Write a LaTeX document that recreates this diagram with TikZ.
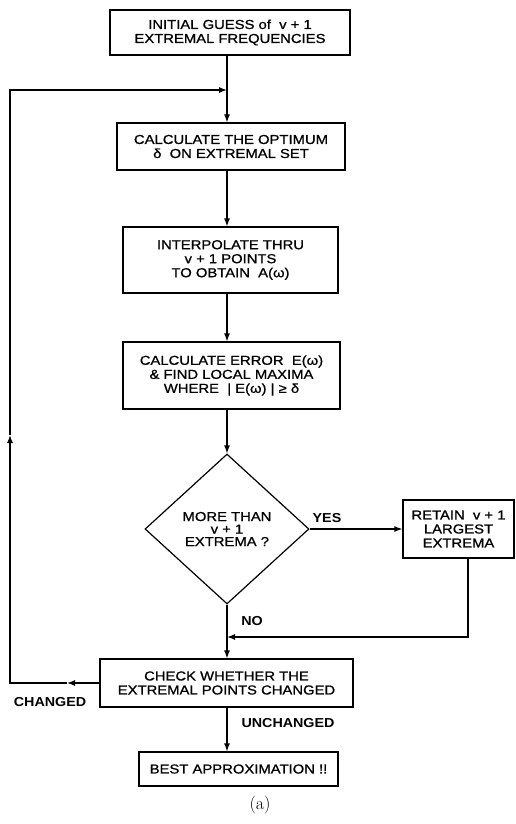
\documentclass[tikz,border=0pt]{standalone}
\usepackage{fontspec}
\usetikzlibrary{arrows.meta,shapes.geometric}
\newfontfamily\boxfont{Liberation Sans}[FakeStretch=1.14,FakeBold=0.9]
\newfontfamily\labelfont{Liberation Sans}[FakeStretch=1.1]
\begin{document}
\begin{tikzpicture}[x=1pt,y=-1pt,
  wire/.style={line width=1.2pt},
  tip/.style={-{Latex[length=8pt,width=6pt]}},
  procbox/.style={draw,line width=1.2pt,rectangle,inner sep=0pt,align=center,
    font=\boxfont\fontsize{13}{14}\selectfont},
  decide/.style={draw,line width=1.2pt,diamond,inner sep=0pt,align=center,
    minimum width=164pt,minimum height=150pt,
    font=\boxfont\fontsize{13}{12.5}\selectfont},
  flowlabel/.style={inner sep=0pt,font=\labelfont\bfseries\fontsize{13}{14}\selectfont}]
\useasboundingbox (0,0) rectangle (516,824);

% process steps
\node[procbox,minimum width=240pt,minimum height=45pt] (box1) at (230,32.5)
  {INITIAL GUESS of \ v + 1\\EXTREMAL FREQUENCIES};
\node[procbox,minimum width=228pt,minimum height=47pt] (box2) at (231,146.5)
  {CALCULATE THE OPTIMUM\\δ \ ON EXTREMAL SET};
\node[procbox,minimum width=215pt,minimum height=66pt] (box3) at (230.5,260)
  {INTERPOLATE THRU\\v + 1 POINTS\\TO OBTAIN \ A(ω)};
\node[procbox,minimum width=217pt,minimum height=67pt] (box4) at (231.5,375.5)
  {CALCULATE ERROR \ E(ω)\\\& FIND LOCAL MAXIMA\\WHERE \ | E(ω) | ≥ δ};
\node[decide] (dec) at (227,529) {MORE THAN\\v + 1\\EXTREMA ?};
\node[procbox,minimum width=111pt,minimum height=58pt] (retain) at (458.5,529)
  {RETAIN \ v + 1\\LARGEST\\EXTREMA};
\node[procbox,minimum width=253pt,minimum height=48pt] (check) at (226.5,683)
  {CHECK WHETHER THE\\EXTREMAL POINTS CHANGED};
\node[procbox,minimum width=199pt,minimum height=34pt] (best) at (238.5,769)
  {BEST APPROXIMATION !!};

% routing points
\coordinate (spine) at (227,0);
\coordinate (jtop) at (227,90);
\coordinate (lt) at (10,90);
\coordinate (lb) at (10,683);
\coordinate (chg) at (67,683);
\coordinate (up) at (10,435);
\coordinate (rb) at (468,637);
\coordinate (jno) at (227,637);

% main flow
\draw[wire] (box1.south -| spine) -- (jtop);
\draw[wire,tip] (jtop) -- (box2.north -| spine);
\draw[wire,tip] (box2.south -| spine) -- (box3.north -| spine);
\draw[wire,tip] (box3.south -| spine) -- (box4.north -| spine);
\draw[wire,tip] (box4.south -| spine) -- (dec.north);
\draw[wire,tip] (dec.east) -- (retain.west);
\draw[wire] (dec.south) -- (jno);
\draw[wire,tip] (jno) -- (check.north -| spine);
\draw[wire,tip] (retain.south -| rb) -- (rb) -- (jno);
\draw[wire,tip] (check.south -| spine) -- (best.north -| spine);

% feedback loop
\draw[wire,tip] (check.west) -- (chg);
\draw[wire,tip] (chg) -- (lb) -- (up);
\draw[wire,tip] (up) -- (lt) -- (jtop);

% branch labels
\node[flowlabel] (yes) at (327,518) {YES};
\node[flowlabel] (no) at (252,621) {NO};
\node[flowlabel] (changed) at (50,702) {CHANGED};
\node[flowlabel] (unchanged) at (288,723) {UNCHANGED};
\node[font=\fontsize{18}{20}\selectfont] (caption) at (260,805) {(a)};
\end{tikzpicture}
\end{document}
